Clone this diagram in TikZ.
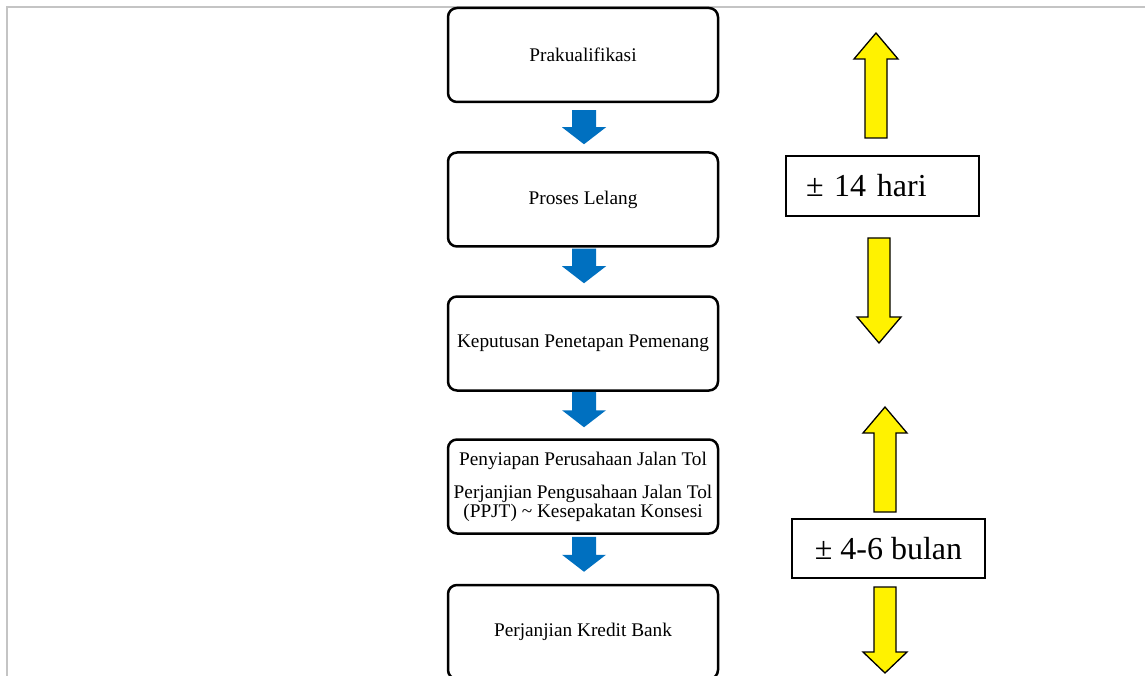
\documentclass[tikz,border=0pt]{standalone}
\usepackage{fontspec}
\setmainfont{Liberation Serif}
\usetikzlibrary{calc}
\definecolor{flowblue}{HTML}{0070C0}
\definecolor{frameg}{HTML}{C4C4C4}
\tikzset{
  stepbox/.style={draw=black, line width=2.5pt, rounded corners=9pt, fill=white,
    minimum width=270pt, minimum height=94pt, align=center, inner sep=2pt,
    font=\fontsize{19.3}{17.5}\selectfont},
  durbox/.style={draw=black, line width=1.3pt, fill=white, minimum height=59pt,
    font=\fontsize{32}{36}\selectfont},
  bluearr/.style={fill=flowblue},
  yarr/.style={draw=black, fill=yellow, line width=1.3pt, line join=miter},
  framel/.style={draw=frameg, line width=1.2pt}
}
% blue block arrow from node #1 to node #2; #3 gap below #1, #4 gap above #2
\newcommand\bluedown[4]{%
  \fill[bluearr]
    ($(#1.south)+(-11,#3)$) -- ($(#1.south)+(13,#3)$)
    -- ($(#2.north)+(13,{-#4-17})$) -- ($(#2.north)+(23,{-#4-17})$)
    -- ($(#2.north)+(1,-#4)$)
    -- ($(#2.north)+(-21,{-#4-17})$) -- ($(#2.north)+(-11,{-#4-17})$) -- cycle;}
% yellow block arrows: centre x, tip y, head base y, tail y
\newcommand\yellowarrow[4]{%
  \draw[yarr] (#1-11,#4) -- (#1-11,#3) -- (#1-22,#3) -- (#1,#2) -- (#1+22,#3)
    -- (#1+11,#3) -- (#1+11,#4) -- cycle;}
\begin{document}
\begin{tikzpicture}[x=1pt,y=-1pt]
\useasboundingbox (0,0) rectangle (1145,676);
\fill[white] (0,0) rectangle (1145,676);
\draw[framel] (7,676) -- (7,7) -- (1145,7);

\node[stepbox] (b1) at (583,55) {Prakualifikasi};
\node[stepbox] (b2) at (583,199.5) {Proses Lelang};
\node[stepbox] (b3) at (583,343.5) {Keputusan Penetapan Pemenang};
\node[stepbox] (b4) at (583,486.5) {Penyiapan Perusahaan Jalan Tol\\[15pt]Perjanjian Pengusahaan Jalan Tol\\(PPJT) \textasciitilde{} Kesepakatan Konsesi};
\node[stepbox] (b5) at (583,632) {Perjanjian Kredit Bank};

\bluedown{b1}{b2}{7}{7}
\bluedown{b2}{b3}{1}{12}
\bluedown{b3}{b4}{0}{11}
\bluedown{b4}{b5}{2}{12}

\yellowarrow{876}{33}{59}{138}
\yellowarrow{879}{343}{317}{238}
\yellowarrow{885}{407}{433}{512}
\yellowarrow{885}{673}{652}{587}

\node[durbox, text width=153pt, inner xsep=20pt, align=left, minimum height=60pt] (d1) at (882.5,186) {± 14 hari};
\node[durbox, minimum width=193pt] (d2) at (888.5,548.5) {± 4-6 bulan};
\end{tikzpicture}
\end{document}
